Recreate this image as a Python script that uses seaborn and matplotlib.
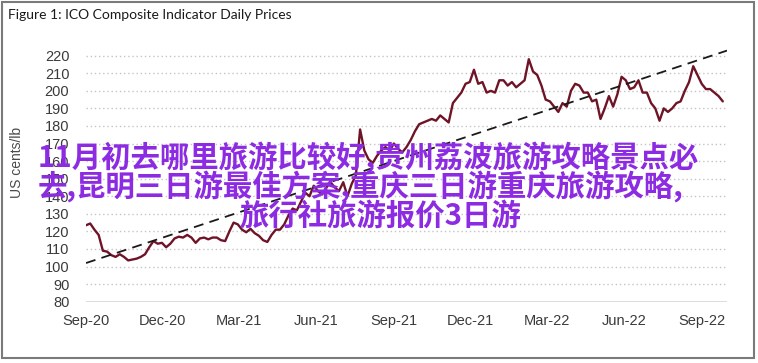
import matplotlib
matplotlib.use("Agg")
import matplotlib.pyplot as plt
from matplotlib import font_manager
import seaborn as sns
import pandas as pd
from matplotlib.patches import Rectangle

# ---------------- data ----------------
title = "Figure 1: ICO Composite Indicator Daily Prices"
y_label = "US cents/lb"
start_date = "2020-09-01"
step = "5D"
price_values = [
    123.5, 124.5, 121, 118, 109, 108.5, 106.5, 105.5, 107, 105.5,
    103.5, 104, 104.5, 105.5, 107, 111, 114.5, 113, 113.5, 111,
    113, 116, 117, 116.5, 118, 116.5, 113.5, 116, 116.5, 115.5,
    116.5, 116.5, 115, 114.5, 120, 125, 124, 121, 119.5, 121.5,
    119, 117.5, 115, 114, 118, 121, 121, 124, 129, 133,
    132, 137, 142, 140, 146, 143, 141, 145, 148, 145,
    143, 148, 140, 147, 152, 178, 166, 161, 159, 163,
    166, 168, 166, 170, 167, 165, 168, 172, 177, 181,
    182, 183, 184, 183, 186, 184, 182, 193, 196, 199,
    204, 205, 212, 204, 205, 199, 200, 199, 206, 206,
    203, 205, 202, 204, 206, 218, 211, 209, 203, 195,
    194, 191, 188, 193, 191, 200, 204, 203, 199, 199,
    194, 195, 184, 190, 197, 191, 198, 208, 206, 201,
    202, 206, 199, 199, 193, 190, 183, 190, 188, 190,
    193, 194, 200, 205, 214, 209, 204, 201, 201, 199,
    197, 194,
]
trend_dates = ["2020-09-01", "2022-10-01"]
trend_values = [102.0, 222.9]
tick_dates = ["2020-09-01", "2020-12-01", "2021-03-01", "2021-06-01", "2021-09-01",
              "2021-12-01", "2022-03-01", "2022-06-01", "2022-09-01"]
tick_labels = ["Sep-20", "Dec-20", "Mar-21", "Jun-21", "Sep-21",
               "Dec-21", "Mar-22", "Jun-22", "Sep-22"]
y_ticks = list(range(80, 221, 10))
overlay_lines = [
    "11月初去哪里旅游比较好,贵州荔波旅游攻略景点必",
    "去,昆明三日游最佳方案,重庆三日游重庆旅游攻略,",
    "旅行社旅游报价3日游",
]

# ---------------- style ----------------
sns.set_theme(style="white")
available = {f.name for f in font_manager.fontManager.ttflist}
narrow = "Liberation Sans Narrow" if "Liberation Sans Narrow" in available else "Liberation Sans"
plt.rcParams["font.family"] = [narrow, "DejaVu Sans"]

W, H = 758, 363
fig = plt.figure(figsize=(W / 100, H / 100), dpi=100)
left_px, right_px = 86, 727
top_val_px, bottom_px = 46.9, 301.7
ax = fig.add_axes([left_px / W, 1 - bottom_px / H,
                   (right_px - left_px) / W, (bottom_px - top_val_px) / H])

df = pd.DataFrame({
    "date": pd.date_range(start_date, periods=len(price_values), freq=step),
    "price": price_values,
})
tdf = pd.DataFrame({"date": pd.to_datetime(trend_dates), "price": trend_values})

# grid lines
for v in y_ticks:
    if v == 80:
        ax.axhline(v, color="#d9d9d9", lw=2.0, zorder=1)
    else:
        ax.axhline(v, color="#c4c4c4", lw=1.0, ls=(0, (1, 2)), zorder=1)

sns.lineplot(data=df, x="date", y="price", ax=ax, color="#6e1426", lw=1.7, zorder=3)
sns.lineplot(data=tdf, x="date", y="price", ax=ax, color="#1a1a1a", lw=1.3,
             ls=(0, (5.5, 3.5)), zorder=4)

ax.set_xlim(pd.Timestamp("2020-09-01"), pd.Timestamp("2022-10-01"))
ax.set_ylim(80, 225)
ax.set_yticks(y_ticks)
ax.set_yticklabels([str(v) for v in y_ticks], fontsize=10.5, color="#3a3a3a")
ax.set_xticks(pd.to_datetime(tick_dates))
ax.set_xticklabels(tick_labels, fontsize=10.5, color="#3a3a3a")
ax.tick_params(axis="y", length=0, pad=12)
ax.tick_params(axis="x", length=0, pad=9)
for s in ax.spines.values():
    s.set_visible(False)
ax.set_xlabel("")
ax.set_ylabel("")
ax.grid(False)
ax.patch.set_alpha(0)

fig.text(17 / W, 1 - 162 / H, y_label, rotation=90, ha="center", va="center",
         fontsize=10, color="#4a4a4a")
fig.text(8 / W, 1 - 15 / H, title, ha="left", va="center", fontsize=10,
         color="#1a1a1a", family=["Lato", "DejaVu Sans"])

# overlay text
ov_centers = [(368, 158), (361, 187), (380, 216)]
for line, (cx, cy) in zip(overlay_lines, ov_centers):
    fig.text(cx / W, 1 - cy / H, line, ha="center", va="center", fontsize=21.2,
             fontweight="bold", color="#8c2be2",
             family=["Noto Sans CJK SC", "DejaVu Sans"], zorder=10)

# figure border
fig.patches.append(Rectangle((2 / W, 5 / H), 752 / W, 356 / H, transform=fig.transFigure,
                             fill=False, edgecolor="#7a7a7a", lw=1.5, zorder=20))

fig.savefig("out.png", dpi=100)
